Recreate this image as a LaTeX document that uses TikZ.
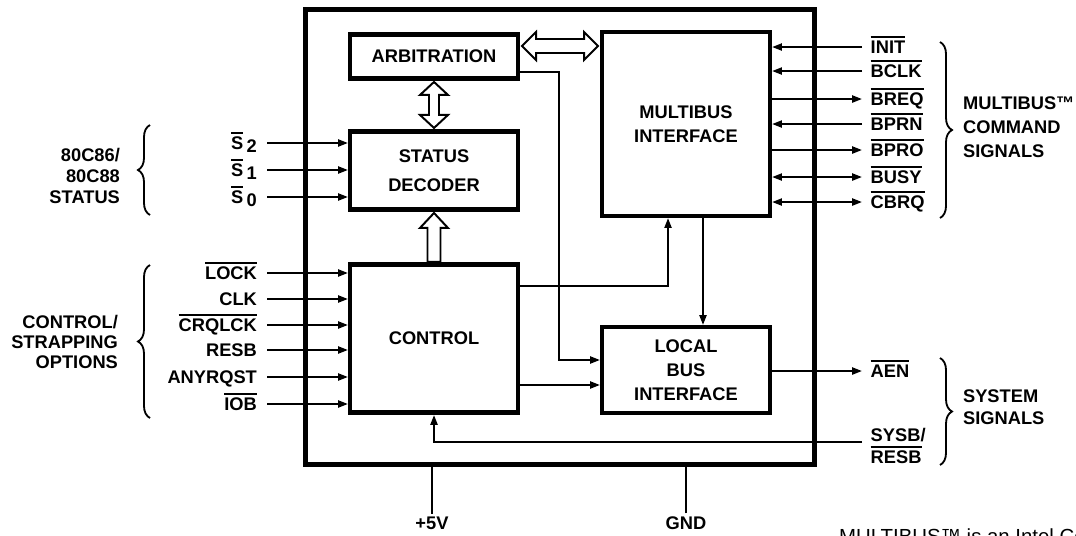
\documentclass[tikz,border=0pt]{standalone}
\usepackage{fontspec}
\setmainfont{Liberation Sans}
\usetikzlibrary{arrows.meta,calc,decorations.pathreplacing}
\newcommand{\lowact}[1]{\vbox{\hrule height 1.4pt\kern 2.2pt\hbox{#1}}}

\begin{document}
\begin{tikzpicture}[x = 0.025cm, y = -0.025cm]
    \tikzstyle{every node} = [font = \fontsize{13}{15}\selectfont\bfseries, inner sep = 2pt];
    \tikzstyle{blk} = [draw, line width = 3.2pt, minimum width = 4.19cm, align = center];
    \tikzstyle{siglbl} = [inner xsep = 7pt, text height = 9.4pt, text depth = 0pt];
    \tikzstyle{wire} = [line width = 1.4pt];
    \tikzstyle{sig} = [wire, -{Triangle[length = 7pt, width = 5pt]}];
    \tikzstyle{bisig} = [wire, {Triangle[length = 7pt, width = 5pt]}-{Triangle[length = 7pt, width = 5pt]}];
    \tikzstyle{hollow} = [draw, fill = white, line width = 1.4pt, line join = miter];
    \tikzstyle{brace} = [decorate, decoration = {brace, amplitude = 0.3cm}, line width = 1.3pt];
    \useasboundingbox (0,0) rectangle (1076,535);
    % chip:
    \node[draw, line width = 3.6pt, minimum width = 12.725cm, minimum height = 11.375cm] (chip) at (560,237){};
    % blocks:
    \node[blk, minimum height = 1.11cm] (arb) at (434,56.5){ARBITRATION};
    \node[blk, minimum height = 1.96cm, font = \fontsize{13}{21}\selectfont\bfseries] (stat) at (434,170.5){STATUS\\DECODER};
    \node[blk, minimum height = 3.71cm] (ctl) at (434,338.5){CONTROL};
    \node[blk, minimum height = 4.59cm, font = \fontsize{13}{17}\selectfont\bfseries] (mb) at (686,124){MULTIBUS\\INTERFACE};
    \node[blk, minimum height = 2.14cm, font = \fontsize{13}{17}\selectfont\bfseries] (lb) at (686,370){LOCAL\\BUS\\INTERFACE};
    % buses:
    \draw[hollow] ($(arb.east |- 0,46)+(2,0)$) -- ++(14,-14) -- ++(0,7) -- ++(48,0) -- ++(0,-7) -- ++(14,14)
        -- ++(-14,14) -- ++(0,-7) -- ++(-48,0) -- ++(0,7) -- cycle;
    \draw[hollow] ($(arb.south)+(0,1)$) -- ++(14,13) -- ++(-9,0) -- ++(0,20) -- ++(9,0) -- ++(-14,13)
        -- ++(-14,-13) -- ++(9,0) -- ++(0,-20) -- ++(-9,0) -- cycle;
    \draw[hollow] ($(stat.south)+(0,1)$) -- ++(14,15) -- ++(-7.5,0) -- ++(0,34) -- ++(-13,0) -- ++(0,-34)
        -- ++(-7.5,0) -- cycle;
    % inner lines:
    \draw[sig] (arb.east |- 0,72) -| (559,360) -- (lb.west |- 0,360);
    \draw[sig] (ctl.east |- 0,286) -| (mb.south -| 668,0);
    \draw[sig] (mb.south -| 703,0) -- (lb.north -| 703,0);
    \draw[sig] (ctl.east |- 0,385) -- (lb.west |- 0,385);
    % status inputs:
    \node[siglbl, anchor = east] (s2) at (267,143){\lowact{S}\hspace{2.5pt}\raisebox{-2pt}{2}};
    \node[siglbl, anchor = east] (s1) at (267,170){\lowact{S}\hspace{2.5pt}\raisebox{-2pt}{1}};
    \node[siglbl, anchor = east] (s0) at (267,197){\lowact{S}\hspace{2.5pt}\raisebox{-2pt}{0}};
    \draw[sig] (s2.east) -- (s2.east -| stat.west);
    \draw[sig] (s1.east) -- (s1.east -| stat.west);
    \draw[sig] (s0.east) -- (s0.east -| stat.west);
    % control inputs:
    \node[siglbl, anchor = east] (lock) at (267,273){\lowact{LOCK}};
    \node[siglbl, anchor = east] (clk) at (267,299){CLK};
    \node[siglbl, anchor = east] (crqlck) at (267,325){\lowact{CRQLCK}};
    \node[siglbl, anchor = east] (resb) at (267,350){RESB};
    \node[siglbl, anchor = east] (anyrqst) at (267,377){ANYRQST};
    \node[siglbl, anchor = east] (iob) at (267,404){\lowact{IOB}};
    \draw[sig] (lock.east) -- (lock.east -| ctl.west);
    \draw[sig] (clk.east) -- (clk.east -| ctl.west);
    \draw[sig] (crqlck.east) -- (crqlck.east -| ctl.west);
    \draw[sig] (resb.east) -- (resb.east -| ctl.west);
    \draw[sig] (anyrqst.east) -- (anyrqst.east -| ctl.west);
    \draw[sig] (iob.east) -- (iob.east -| ctl.west);
    % multibus signals:
    \node[siglbl, anchor = west, inner xsep = 6pt] (init) at (862,47){\lowact{INIT}};
    \node[siglbl, anchor = west, inner xsep = 6pt] (bclk) at (862,71){\lowact{BCLK}};
    \node[siglbl, anchor = west, inner xsep = 6pt] (breq) at (862,99){\lowact{BREQ}};
    \node[siglbl, anchor = west, inner xsep = 6pt] (bprn) at (862,124){\lowact{BPRN}};
    \node[siglbl, anchor = west, inner xsep = 6pt] (bpro) at (862,150){\lowact{BPRO}};
    \node[siglbl, anchor = west, inner xsep = 6pt] (busy) at (862,177){\lowact{BUSY}};
    \node[siglbl, anchor = west, inner xsep = 6pt] (cbrq) at (862,202){\lowact{CBRQ}};
    \draw[sig] (init.west) -- (init.west -| mb.east);
    \draw[sig] (bclk.west) -- (bclk.west -| mb.east);
    \draw[sig] (breq.west -| mb.east) -- (breq.west);
    \draw[sig] (bprn.west) -- (bprn.west -| mb.east);
    \draw[sig] (bpro.west -| mb.east) -- (bpro.west);
    \draw[bisig] (busy.west -| mb.east) -- (busy.west);
    \draw[bisig] (cbrq.west -| mb.east) -- (cbrq.west);
    % system signals:
    \node[siglbl, anchor = west, inner xsep = 6pt] (aen) at (862,371){\lowact{AEN}};
    \node[anchor = west, inner xsep = 6pt, align = left, font = \fontsize{13}{16}\selectfont\bfseries] (sysb) at (862,446){SYSB/\\\lowact{RESB}};
    \draw[sig] (lb.east |- aen.west) -- (aen.west);
    \draw[sig] (sysb.west |- 0,442) -| (ctl.south);
    % supply:
    \node (vcc) at (432,523){+5V};
    \node (gnd) at (686,523){GND};
    \draw[wire] (vcc.north) -- (vcc.north |- chip.south);
    \draw[wire] (gnd.north) -- (gnd.north |- chip.south);
    % braces:
    \draw[brace] (150,215) -- (150,125);
    \draw[brace] (150,418) -- (150,265);
    \draw[brace] (940,42) -- (940,218);
    \draw[brace] (940,358) -- (940,465);
    \node[anchor = east, align = right] (stlbl) at (123,176){80C86/\\80C88\\STATUS};
    \node[anchor = east, align = right, font = \fontsize{13}{14.5}\selectfont\bfseries] (ctllbl) at (121,342){CONTROL/\\STRAPPING\\OPTIONS};
    \node[anchor = west, align = left, font = \fontsize{13}{17}\selectfont\bfseries] (mblbl) at (960,127){MULTIBUS™\\COMMAND\\SIGNALS};
    \node[anchor = west, align = left, font = \fontsize{13}{16}\selectfont\bfseries] (syslbl) at (960,407){SYSTEM\\SIGNALS};
    % note:
    \begin{scope}
      \clip (0,0) rectangle (1076,535);
      \node[anchor = base west, font = \normalfont\fontsize{14.5}{16}\selectfont] (note) at (836,543){MULTIBUS™ is an Intel Corporation trademark.};
    \end{scope}
  \end{tikzpicture}
\end{document}
